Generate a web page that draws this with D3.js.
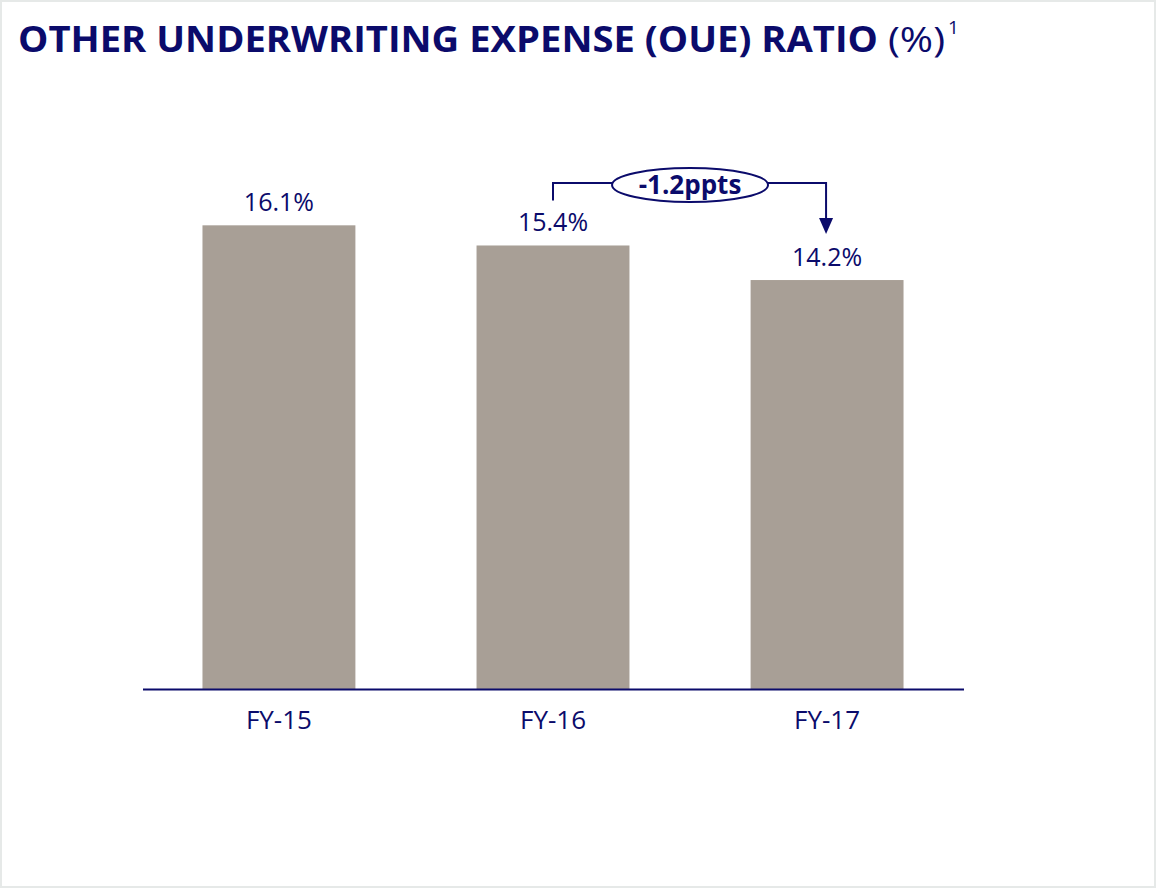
<!DOCTYPE html>
<html>
<head>
<meta charset="utf-8">
<script src="https://cdn.jsdelivr.net/npm/d3@7"></script>
<style>
  html, body { margin: 0; padding: 0; background: #fff; }
  body { width: 1156px; height: 888px; overflow: hidden; }
  text { font-family: "Open Sans", "Noto Sans", sans-serif; }
</style>
</head>
<body>
<div id="chart"></div>
<script>
// values
let categories = ["FY-15", "FY-16", "FY-17"];
let values = [16.1, 15.4, 14.2];
let valueLabels = ["16.1%", "15.4%", "14.2%"];
let changeLabel = "-1.2ppts";

const width = 1156, height = 888;
const navy = "#0b0b6b";
const barColor = "#a89f96";

let svg = d3.select("#chart")
    .append("svg")
    .attr("width", width)
    .attr("height", height);

// page frame
svg.append("rect")
    .attr("x", 1).attr("y", 1)
    .attr("width", width - 2).attr("height", height - 2)
    .attr("fill", "#fff")
    .attr("stroke", "#e6e9e8")
    .attr("stroke-width", 2);

// title
let title = svg.append("text")
    .attr("x", 18)
    .attr("y", 52)
    .style("fill", navy)
    .style("font-size", "35px");
title.append("tspan")
    .attr("class", "main")
    .style("font-weight", "bold")
    .text("OTHER UNDERWRITING EXPENSE (OUE) RATIO");
title.append("tspan")
    .attr("class", "pct")
    .attr("x", 888)
    .text("(%)");
title.append("tspan")
    .attr("dy", -18)
    .attr("dx", 3)
    .style("font-size", "19px")
    .text("1");

// fit the bold part and the (%) to the reference widths
title.select("tspan.main").attr("textLength", 860).attr("lengthAdjust", "spacingAndGlyphs");
title.select("tspan.pct").attr("textLength", 57).attr("lengthAdjust", "spacingAndGlyphs");

// scales
let x = d3.scaleBand()
    .domain(categories)
    .range([143, 963])
    .paddingInner(0.442)
    .paddingOuter(0.217);

let y = d3.scaleLinear()
    .domain([0, 17])
    .range([689, 689 - 17 * 28.8]);

// bars
svg.selectAll("rect.bar")
    .data(values)
    .enter()
    .append("rect")
    .attr("class", "bar")
    .attr("x", function(d, i) { return x(categories[i]) })
    .attr("y", function(d) { return y(d) })
    .attr("width", x.bandwidth())
    .attr("height", function(d) { return y(0) - y(d) })
    .attr("fill", barColor);

// value labels
svg.selectAll("text.val")
    .data(values)
    .enter()
    .append("text")
    .attr("class", "val")
    .attr("x", function(d, i) { return x(categories[i]) + x.bandwidth() / 2 })
    .attr("y", function(d) { return y(d) - 14 })
    .style("text-anchor", "middle")
    .style("font-size", "25px")
    .style("fill", navy)
    .text(function(d, i) { return valueLabels[i] });

// x axis
let xAxis = svg.append("g")
    .attr("transform", `translate(0, ${y(0)})`)
    .call(d3.axisBottom(x).tickSize(0).tickPadding(22));
xAxis.select(".domain")
    .attr("d", "M143,0.5H964")
    .attr("stroke", navy)
    .attr("stroke-width", 2);
xAxis.selectAll("text")
    .style("font-family", "'Open Sans', 'Noto Sans', sans-serif")
    .style("font-size", "26px")
    .style("fill", navy);

// change annotation between FY-16 and FY-17
let x1 = x(categories[1]) + x.bandwidth() / 2;
let x2 = x(categories[2]) + x.bandwidth() / 2 - 1;
let yLine = 183;
let midX = (x1 + x2) / 2 + 0.5;

svg.append("path")
    .attr("d", `M${x1},${y(values[1]) - 45}V${yLine}H${x2}V${y(values[2]) - 62}`)
    .attr("fill", "none")
    .attr("stroke", navy)
    .attr("stroke-width", 2);

svg.append("path")
    .attr("d", `M${x2 - 7},${y(values[2]) - 62}L${x2 + 7},${y(values[2]) - 62}L${x2},${y(values[2]) - 46}Z`)
    .attr("fill", navy);

svg.append("ellipse")
    .attr("cx", midX)
    .attr("cy", 185)
    .attr("rx", 78)
    .attr("ry", 17)
    .attr("fill", "#fff")
    .attr("stroke", navy)
    .attr("stroke-width", 2);

svg.append("text")
    .attr("x", midX)
    .attr("y", 194)
    .style("text-anchor", "middle")
    .style("font-size", "26px")
    .style("font-weight", "bold")
    .style("fill", navy)
    .text(changeLabel);
</script>
</body>
</html>
